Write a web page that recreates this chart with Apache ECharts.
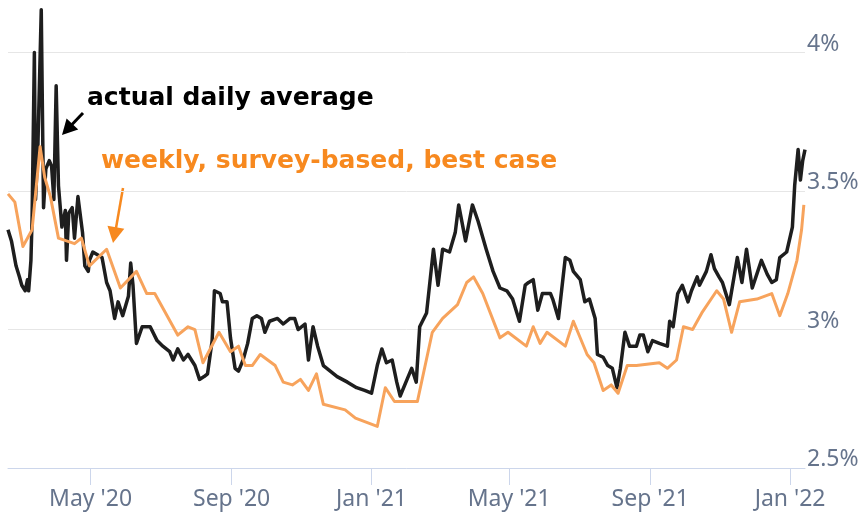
<!DOCTYPE html>
<html><head><meta charset="utf-8">
<script src="https://cdn.jsdelivr.net/npm/echarts@6/dist/echarts.min.js"></script>
<style>html,body{margin:0;padding:0;background:#fff}#c{width:863px;height:516px}</style>
</head><body><div id="c"></div>
<script>
// actual daily average (black)
const actualDates = [
'2020-02-19','2020-02-22','2020-02-26','2020-02-29','2020-03-02','2020-03-05','2020-03-07','2020-03-08','2020-03-10','2020-03-11',
'2020-03-13','2020-03-14','2020-03-16','2020-03-19','2020-03-21','2020-03-23','2020-03-26','2020-03-28','2020-03-30','2020-04-01',
'2020-04-03','2020-04-06','2020-04-09','2020-04-10','2020-04-12','2020-04-15','2020-04-17','2020-04-20','2020-04-24','2020-04-26',
'2020-04-29','2020-04-30','2020-05-03','2020-05-07','2020-05-11','2020-05-15','2020-05-18','2020-05-22','2020-05-25','2020-05-29',
'2020-06-03','2020-06-05','2020-06-07','2020-06-10','2020-06-15','2020-06-22','2020-06-28','2020-07-03','2020-07-09','2020-07-12',
'2020-07-16','2020-07-21','2020-07-25','2020-07-31','2020-08-04','2020-08-08','2020-08-11','2020-08-15','2020-08-17','2020-08-22',
'2020-08-24','2020-08-28','2020-08-31','2020-09-04','2020-09-07','2020-09-11','2020-09-15','2020-09-19','2020-09-23','2020-09-27',
'2020-09-30','2020-10-04','2020-10-11','2020-10-16','2020-10-22','2020-10-26','2020-10-29','2020-11-04','2020-11-07','2020-11-11',
'2020-11-15','2020-11-20','2020-11-26','2020-12-02','2020-12-11','2020-12-19','2020-12-26','2021-01-01','2021-01-06','2021-01-10',
'2021-01-14','2021-01-19','2021-01-23','2021-01-26','2021-02-01','2021-02-05','2021-02-09','2021-02-12','2021-02-18','2021-02-24',
'2021-02-28','2021-03-04','2021-03-10','2021-03-15','2021-03-18','2021-03-24','2021-03-30','2021-04-04','2021-04-11','2021-04-17',
'2021-04-23','2021-04-29','2021-05-04','2021-05-10','2021-05-15','2021-05-18','2021-05-22','2021-05-26','2021-05-30','2021-06-06',
'2021-06-08','2021-06-13','2021-06-19','2021-06-23','2021-06-26','2021-07-02','2021-07-06','2021-07-10','2021-07-15','2021-07-17',
'2021-07-22','2021-07-26','2021-07-30','2021-08-03','2021-08-06','2021-08-10','2021-08-14','2021-08-20','2021-08-23','2021-08-26',
'2021-08-30','2021-09-03','2021-09-09','2021-09-16','2021-09-18','2021-09-21','2021-09-25','2021-09-29','2021-10-04','2021-10-07',
'2021-10-12','2021-10-14','2021-10-20','2021-10-24','2021-10-27','2021-10-31','2021-11-03','2021-11-09','2021-11-16','2021-11-20',
'2021-11-24','2021-11-29','2021-12-03','2021-12-07','2021-12-12','2021-12-16','2021-12-20','2021-12-23','2021-12-29','2022-01-03',
'2022-01-05','2022-01-08','2022-01-10','2022-01-12','2022-01-14'
];
const actualValues = [
3.36,3.32,3.23,3.19,3.16,3.14,3.18,3.14,3.25,3.40,
4.00,3.47,3.65,4.155,3.44,3.58,3.61,3.59,3.47,3.88,
3.52,3.37,3.43,3.25,3.42,3.44,3.33,3.48,3.35,3.23,
3.21,3.25,3.28,3.27,3.26,3.17,3.14,3.04,3.10,3.05,
3.12,3.24,3.16,2.95,3.01,3.01,2.96,2.94,2.92,2.89,
2.93,2.89,2.91,2.87,2.82,2.83,2.84,2.96,3.14,3.13,
3.10,3.10,2.97,2.86,2.85,2.89,2.95,3.04,3.05,3.04,
2.99,3.03,3.04,3.02,3.04,3.04,3.00,3.02,2.89,3.01,
2.94,2.87,2.85,2.83,2.81,2.79,2.78,2.77,2.87,2.93,
2.88,2.89,2.81,2.76,2.82,2.86,2.81,3.01,3.06,3.29,
3.16,3.29,3.28,3.35,3.45,3.32,3.45,3.39,3.29,3.21,
3.15,3.14,3.11,3.03,3.16,3.17,3.18,3.07,3.13,3.13,
3.11,3.04,3.26,3.25,3.21,3.18,3.10,3.11,3.04,2.91,
2.90,2.87,2.86,2.79,2.86,2.99,2.94,2.94,2.98,2.98,
2.92,2.96,2.95,2.94,3.03,3.01,3.13,3.16,3.10,3.14,
3.19,3.16,3.21,3.27,3.22,3.19,3.17,3.09,3.26,3.17,
3.29,3.15,3.20,3.25,3.20,3.17,3.18,3.26,3.28,3.37,
3.52,3.65,3.54,3.61,3.65
];
// weekly, survey-based, best case (orange)
const weeklyDates = [
'2020-02-19','2020-02-25','2020-03-03','2020-03-11','2020-03-18','2020-03-22','2020-03-27','2020-04-03','2020-04-10','2020-04-17',
'2020-04-23','2020-04-30','2020-05-15','2020-05-27','2020-06-10','2020-06-19','2020-06-26','2020-07-16','2020-07-25','2020-07-31',
'2020-08-07','2020-08-21','2020-08-31','2020-09-07','2020-09-13','2020-09-19','2020-09-26','2020-10-09','2020-10-16','2020-10-24',
'2020-10-31','2020-11-07','2020-11-14','2020-11-20','2020-12-09','2020-12-18','2021-01-06','2021-01-13','2021-01-21','2021-02-10',
'2021-02-23','2021-03-04','2021-03-17','2021-03-25','2021-03-31','2021-04-08','2021-04-23','2021-04-30','2021-05-16','2021-05-22',
'2021-05-28','2021-06-03','2021-06-19','2021-06-26','2021-07-08','2021-07-14','2021-07-22','2021-07-29','2021-08-04','2021-08-12',
'2021-08-20','2021-09-09','2021-09-16','2021-09-24','2021-09-30','2021-10-08','2021-10-16','2021-10-29','2021-11-04','2021-11-11',
'2021-11-18','2021-12-03','2021-12-16','2021-12-23','2021-12-30','2022-01-07','2022-01-11','2022-01-13'
];
const weeklyValues = [
3.49,3.46,3.30,3.36,3.66,3.55,3.48,3.33,3.32,3.31,
3.33,3.23,3.29,3.15,3.21,3.13,3.13,2.98,3.01,3.00,
2.88,2.99,2.92,2.94,2.87,2.87,2.91,2.87,2.81,2.80,
2.82,2.78,2.84,2.73,2.71,2.68,2.65,2.79,2.74,2.74,
2.99,3.04,3.09,3.17,3.19,3.13,2.97,2.99,2.94,3.01,
2.95,2.99,2.94,3.03,2.91,2.88,2.78,2.80,2.77,2.87,
2.87,2.88,2.86,2.89,3.01,3.00,3.06,3.14,3.11,2.99,
3.10,3.11,3.13,3.05,3.13,3.25,3.36,3.45
];
// x-axis tick dates (labels: May '20, Sep '20, ...)
const xTickDates = ['2020-05-01','2020-09-01','2021-01-01','2021-05-01','2021-09-01','2022-01-01'];
const monthNames = ['Jan','Feb','Mar','Apr','May','Jun','Jul','Aug','Sep','Oct','Nov','Dec'];
const xMin = '2020-02-19', xMax = '2022-01-14';
const yTicks = [2.5, 3, 3.5, 4];
const yMin = 2.5, yMax = 4.19, yStep = 0.5;
const labelActual = 'actual daily average';
const labelWeekly = 'weekly, survey-based, best case';

const parseD = s => echarts.number.parseDate(s).getTime();
const xTickVals = xTickDates.map(parseD);
const chart = echarts.init(document.getElementById('c'), null, {renderer: 'canvas'});
const axisColor = '#ccd6eb';
const labelColor = '#66748c';
chart.setOption({
  animation: false,
  grid: {left: 8, right: 58, top: 0, bottom: 48, containLabel: false},
  xAxis: {
    type: 'value', min: parseD(xMin), max: parseD(xMax), scale: true,
    axisLine: {lineStyle: {color: axisColor, width: 1}},
    axisTick: {show: true, length: 17, lineStyle: {color: axisColor}, customValues: xTickVals},
    splitLine: {show: false},
    axisLabel: {
      color: labelColor, fontSize: 23, fontFamily: 'Noto Sans', margin: 20,
      hideOverlap: false, customValues: xTickVals,
      formatter: function (v) {
        const d = new Date(v);
        return monthNames[d.getMonth()] + " '" + String(d.getFullYear()).slice(2);
      }
    }
  },
  yAxis: {
    type: 'value', position: 'right', min: yMin, max: yMax, interval: yStep,
    axisLine: {show: false}, axisTick: {show: false},
    splitLine: {lineStyle: {color: '#e6e6e6', width: 1}, showMaxLine: false},
    axisLabel: {
      color: labelColor, fontSize: 23, fontFamily: 'Noto Sans', margin: 2,
      align: 'left', verticalAlign: 'bottom', lineHeight: 17, showMaxLabel: false,
      formatter: function (v) {
        const t = yTicks.find(k => Math.abs(k - v) < 1e-6);
        return t === undefined ? '' : t + '%';
      }
    }
  },
  series: [
    {
      type: 'line', name: labelActual, showSymbol: false, smooth: false,
      data: actualDates.map((d, i) => [parseD(d), actualValues[i]]),
      lineStyle: {color: '#1e1e1e', width: 3.5, join: 'round'},
      z: 2
    },
    {
      type: 'line', name: labelWeekly, showSymbol: false, smooth: false,
      data: weeklyDates.map((d, i) => [parseD(d), weeklyValues[i]]),
      lineStyle: {color: '#f7a35c', width: 3, join: 'round'},
      z: 3
    }
  ],
  graphic: [
    {type: 'text', x: 87, y: 98, style: {text: labelActual, fill: '#000', font: 'bold 25px "DejaVu Sans"', verticalAlign: 'middle', align: 'left'}},
    {type: 'text', x: 101, y: 161, style: {text: labelWeekly, fill: '#f7891f', font: 'bold 25px "DejaVu Sans"', verticalAlign: 'middle', align: 'left'}},
    {type: 'line', shape: {x1: 83, y1: 113, x2: 72, y2: 124.5}, style: {stroke: '#000', lineWidth: 3}},
    {type: 'polygon', shape: {points: [[62, 135], [78.2, 129.6], [66.6, 118.6]]}, style: {fill: '#000'}},
    {type: 'line', shape: {x1: 123, y1: 188, x2: 116, y2: 228}, style: {stroke: '#f7891f', lineWidth: 2.5}},
    {type: 'polygon', shape: {points: [[113, 243], [124.3, 228.8], [107.5, 225.8]]}, style: {fill: '#f7891f'}}
  ]
});
</script>
</body></html>
